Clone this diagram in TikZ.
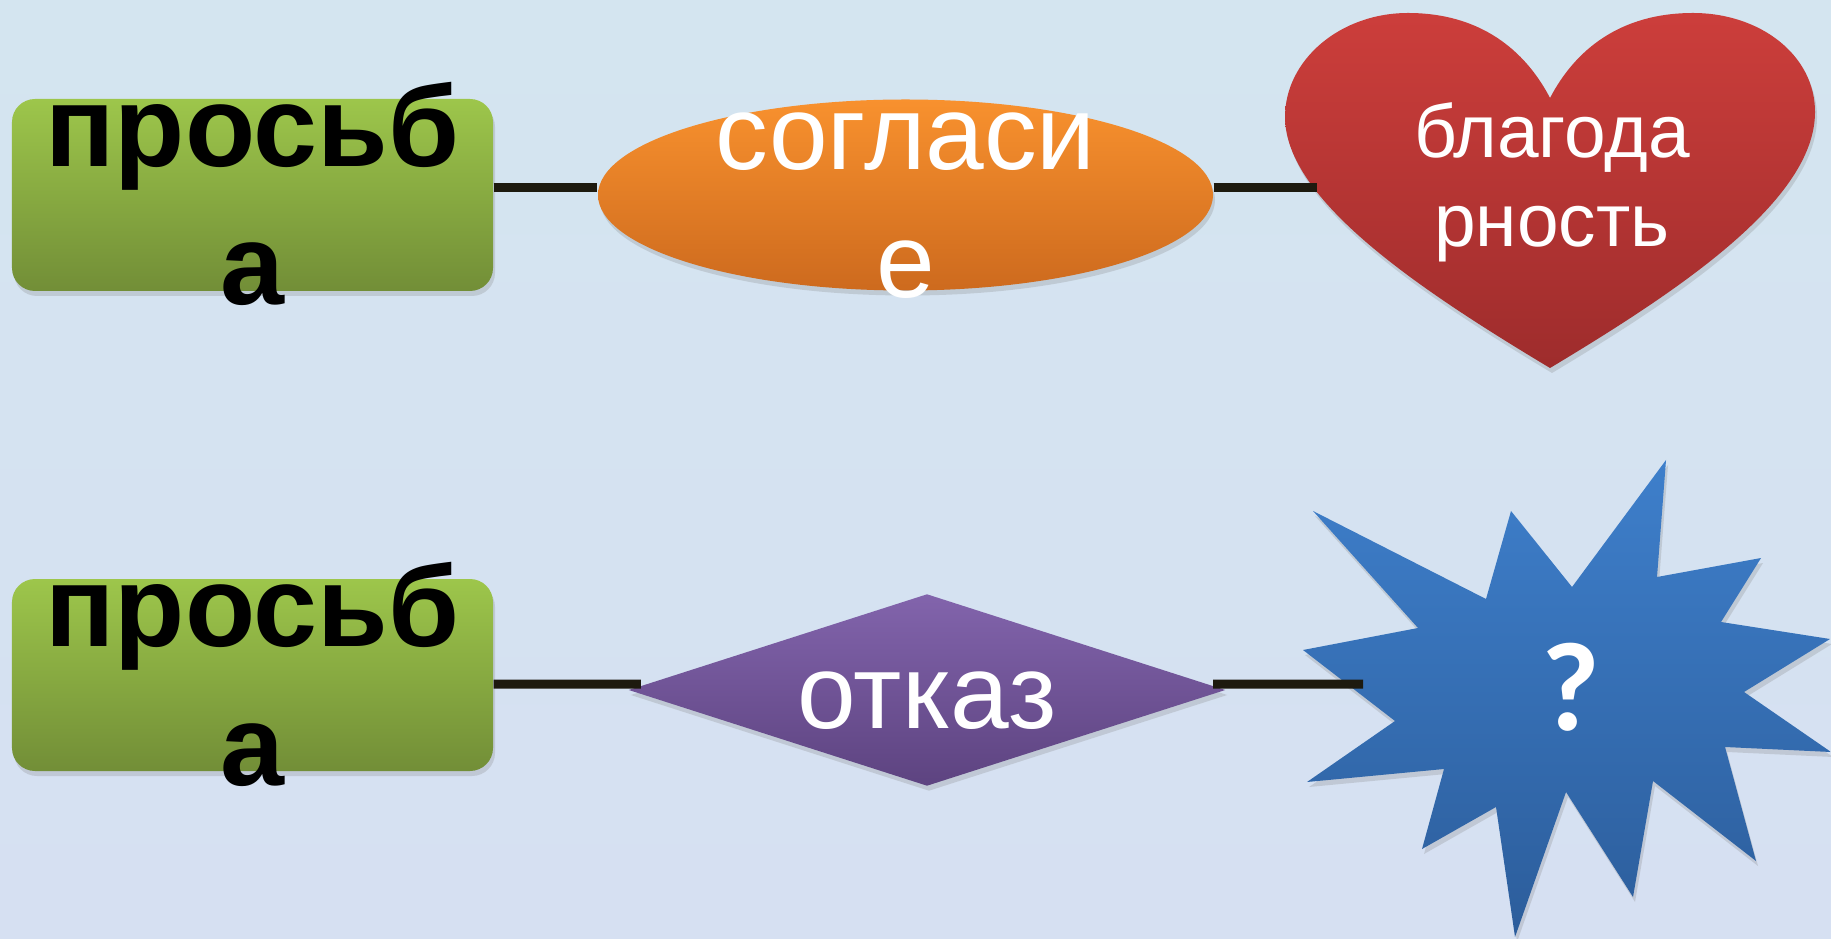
\documentclass[tikz,border=0pt]{standalone}
\usepackage{fontspec}
\setmainfont{Liberation Sans}
\newfontfamily\qfont{Carlito}
\usetikzlibrary{shapes.geometric,shadows}

\definecolor{bgtop}{HTML}{D4E5F0}
\definecolor{bgmid}{HTML}{BDCDE9}
\definecolor{bgbot}{HTML}{D6E0F2}
\definecolor{greentop}{HTML}{9DC64B}
\definecolor{greenbot}{HTML}{728E37}
\definecolor{orangetop}{HTML}{F8912E}
\definecolor{orangebot}{HTML}{CD6A1E}
\definecolor{redtop}{HTML}{CC3E3B}
\definecolor{redbot}{HTML}{9E2C2C}
\definecolor{purpletop}{HTML}{8264AC}
\definecolor{purplebot}{HTML}{5D4380}
\definecolor{bluetop}{HTML}{3E7FCB}
\definecolor{bluebot}{HTML}{2C5D9B}
\definecolor{linecol}{HTML}{1D1A0F}

\begin{document}
\begin{tikzpicture}[
    softshadow/.style={drop shadow={shadow xshift=0.02cm, shadow yshift=-0.05cm, opacity=0.25}},
    reqbox/.style={rectangle, rounded corners=0.23cm, minimum width=4.81cm, minimum height=1.92cm,
        inner sep=0, top color=greentop, bottom color=greenbot, softshadow},
    agreeshape/.style={ellipse, minimum width=6.15cm, minimum height=1.91cm, inner sep=0,
        top color=orangetop, bottom color=orangebot, softshadow},
    refuseshape/.style={diamond, aspect=3.1, minimum width=5.97cm, minimum height=1.92cm, inner sep=0,
        top color=purpletop, bottom color=purplebot, softshadow},
    reqtext/.style={font=\fontsize{32.7}{39.3}\selectfont\bfseries, align=center, anchor=base, inner sep=0},
    bigtext/.style={font=\fontsize{30}{36.7}\selectfont, text=white, align=center, anchor=base, inner sep=0},
    hearttext/.style={font=\fontsize{21.3}{25.6}\selectfont, text=white, align=center, anchor=base, inner sep=0},
    qtext/.style={font=\qfont\bfseries\fontsize{36}{40}\selectfont, text=white, inner sep=0},
    link/.style={draw=linecol, line width=0.09cm}
]
    % Draw the background
    \useasboundingbox (0,0) rectangle (18.31,9.38);
    \shade [top color=bgtop, middle color=bgmid, bottom color=bgbot] (0,0) rectangle (18.31,9.38);

    % Draw the boxes
    \node [reqbox] (req1) at (2.525,7.43) {};
    \node [reqbox] (req2) at (2.525,2.63) {};
    \node [agreeshape] (agree) at (9.055,7.43) {};
    \node [refuseshape] (refuse) at (9.27,2.48) {};

    % Draw the heart
    \shade [top color=redtop, bottom color=redbot, softshadow]
        (15.50,8.40) .. controls (15.25,8.88) and (14.80,9.25) .. (14.08,9.25)
        .. controls (13.40,9.25) and (12.85,8.78) .. (12.85,8.21)
        .. controls (12.85,7.38) and (14.20,6.48) .. (15.50,5.70)
        .. controls (16.80,6.48) and (18.15,7.38) .. (18.15,8.26)
        .. controls (18.15,8.83) and (17.60,9.25) .. (16.93,9.25)
        .. controls (16.20,9.25) and (15.75,8.88) .. cycle;
    \coordinate (thanks-w) at (13.17,7.50);

    % Draw the star
    \shade [top color=bluetop, bottom color=bluebot, softshadow]
        (13.13,4.27) -- (14.18,3.10) -- (13.03,2.88) -- (13.95,2.17) -- (13.07,1.56)
        -- (14.44,1.69) -- (14.22,0.89) -- (14.96,1.31) -- (15.15,0.01) -- (15.66,1.46)
        -- (16.33,0.41) -- (16.53,1.57) -- (17.56,0.77) -- (17.25,1.91) -- (18.31,1.86)
        -- (17.44,2.46) -- (18.30,2.99) -- (17.21,3.16) -- (17.61,3.80) -- (16.57,3.61)
        -- (16.66,4.78) -- (15.72,3.51) -- (15.11,4.27) -- (14.86,3.39) -- cycle;
    \coordinate (what-w) at (13.63,2.54);

    % Draw the links
    \draw [link] ([yshift=0.07cm]req1.east) -- ([yshift=0.07cm]agree.west);
    \draw [link] ([yshift=0.07cm]agree.east) -- (thanks-w);
    \draw [link] ([yshift=-0.09cm]req2.east) -- ([xshift=0.13cm,yshift=0.06cm]refuse.west);
    \draw [link] ([xshift=-0.13cm,yshift=0.06cm]refuse.east) -- (what-w);

    % Draw the texts (base = last line)
    \node [reqtext] (req1-t) at ([yshift=-1.10cm]req1.center) {просьб\\а};
    \node [reqtext] (req2-t) at ([yshift=-1.10cm]req2.center) {просьб\\а};
    \node [bigtext] (agree-t) at ([yshift=-1.03cm]agree.center) {согласи\\е};
    \node [bigtext] (refuse-t) at ([yshift=-0.38cm]refuse.center) {отказ};
    \node [hearttext] (thanks) at (15.52,6.91) {благода\\рность};
    \node [qtext] (what) at (15.71,2.51) {?};
\end{tikzpicture}
\end{document}
